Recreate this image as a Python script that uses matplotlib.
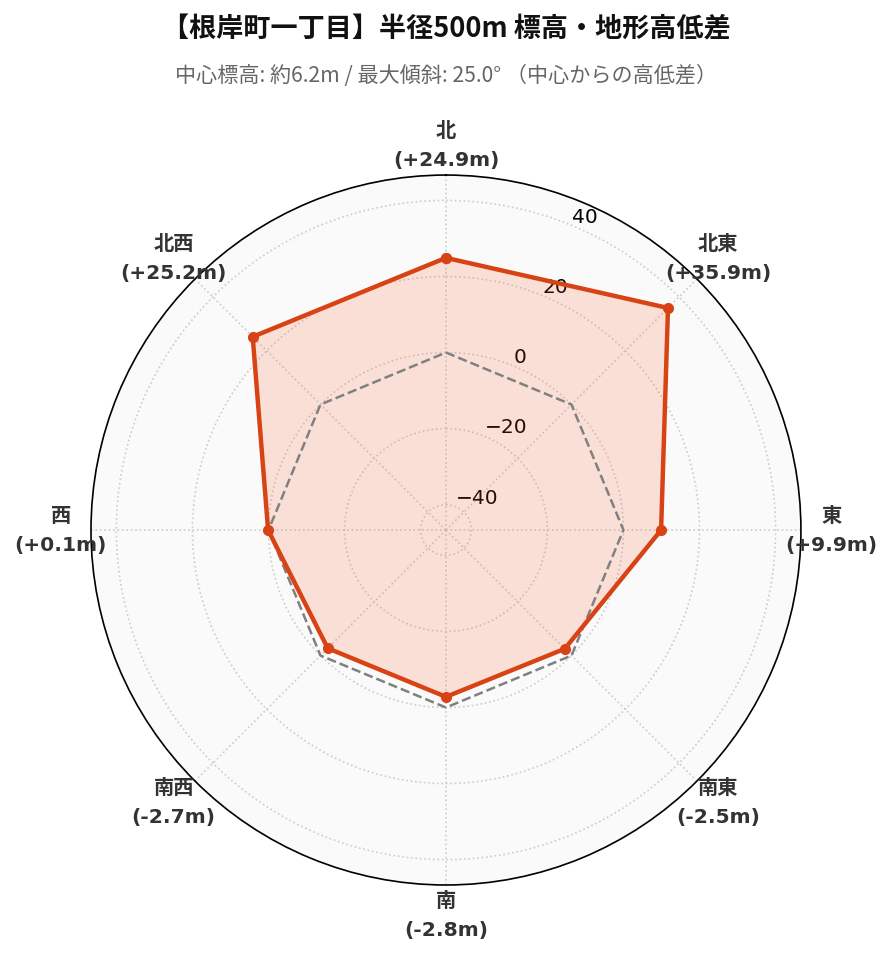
import numpy as np
import matplotlib
matplotlib.use("Agg")
import matplotlib.pyplot as plt

plt.rcParams['font.family'] = ['Noto Sans CJK JP', 'DejaVu Sans']

# data
directions = ['北', '北東', '東', '南東', '南', '南西', '西', '北西']
diffs = [24.9, 35.9, 9.9, -2.5, -2.8, -2.7, 0.1, 25.2]
center_elev = 6.2
max_slope = 25.0
title = '【根岸町一丁目】半径500m 標高・地形高低差'

line_color = '#d84315'
fill_color = '#ff5722'

angles = np.deg2rad(np.arange(len(directions)) * 45.0)
ang_closed = np.append(angles, angles[0])
val_closed = np.append(diffs, diffs[0])
lim = max(abs(v) for v in diffs) * 1.3

fig = plt.figure(figsize=(8.93, 9.62), dpi=100)
ax = fig.add_axes([0.1019, 0.079, 0.795, 0.738], projection='polar')
ax.set_theta_offset(np.pi / 2)
ax.set_theta_direction(-1)
ax.set_facecolor('#fafafa')

ax.plot(ang_closed, np.zeros_like(ang_closed), color='gray', lw=1.8, ls='--', zorder=3)
ax.fill(ang_closed, val_closed, color=fill_color, alpha=0.16, lw=0, zorder=2)
ax.plot(ang_closed, val_closed, color=line_color, lw=3.2, marker='o', ms=7, zorder=4)

ax.set_ylim(-lim, lim)
ax.set_yticks([-40, -20, 0, 20, 40])
ax.set_yticklabels(['\u221240', '\u221220', '0', '20', '40'], fontsize=14.5, family='DejaVu Sans')
ax.set_rlabel_position(22.5)

# direction labels, centered at a fixed radius just outside the circle
ax.set_xticks(angles)
ax.set_xticklabels([])
label_r = -lim + 1.085 * 2 * lim
for a, d, v in zip(angles, directions, diffs):
    ax.text(a, label_r, f'{d}\n({v:+.1f}m)', ha='center', va='center',
            fontsize=14.6, fontweight='bold', color='#333333', linespacing=1.65,
            family=['DejaVu Sans', 'Noto Sans CJK JP'], clip_on=False)

ax.grid(True, color='#cccccc', ls=':', lw=1.2)
ax.spines['polar'].set_color('black')
ax.spines['polar'].set_linewidth(1.2)

fig.text(0.5, 0.969, title, ha='center', va='center', fontsize=19.5, fontweight='bold', color='#111111')
fig.text(0.5, 0.921, f'中心標高: 約{center_elev}m / 最大傾斜: {max_slope}° （中心からの高低差）',
         ha='center', va='center', fontsize=15.2, color='#666666')

fig.savefig('out.png', dpi=100, facecolor='white')
